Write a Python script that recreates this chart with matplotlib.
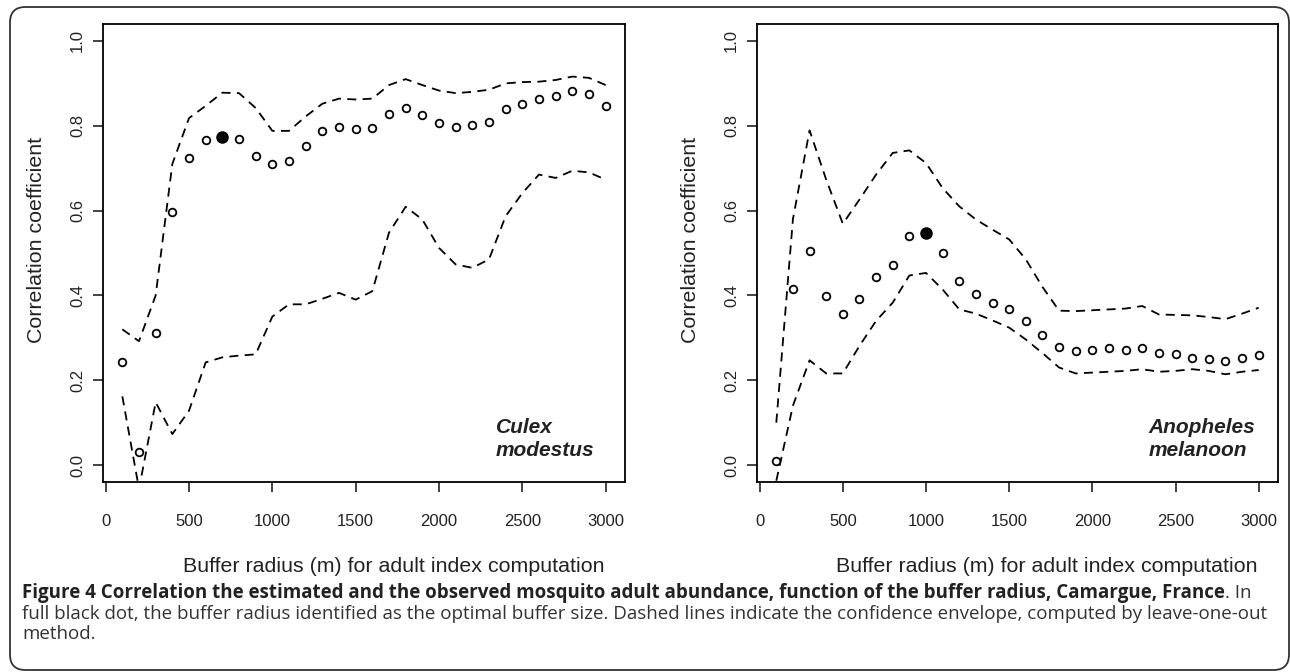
import numpy as np
import matplotlib
matplotlib.use('Agg')
import matplotlib.pyplot as plt
from matplotlib.patches import FancyBboxPatch

# buffer radius (m)
radius = [100, 200, 300, 400, 500, 600, 700, 800, 900, 1000,
          1100, 1200, 1300, 1400, 1500, 1600, 1700, 1800, 1900, 2000,
          2100, 2200, 2300, 2400, 2500, 2600, 2700, 2800, 2900, 3000]

# Culex modestus
culex_r = [0.243, 0.031, 0.312, 0.596, 0.724, 0.766, 0.774, 0.769, 0.729, 0.709,
           0.718, 0.753, 0.787, 0.797, 0.792, 0.795, 0.828, 0.842, 0.826, 0.807,
           0.797, 0.802, 0.809, 0.839, 0.852, 0.863, 0.871, 0.882, 0.876, 0.847]
culex_up = [0.320, 0.292, 0.400, 0.710, 0.818, 0.847, 0.878, 0.877, 0.842, 0.788,
            0.788, 0.822, 0.852, 0.864, 0.862, 0.864, 0.896, 0.910, 0.896, 0.883,
            0.877, 0.880, 0.885, 0.900, 0.903, 0.904, 0.908, 0.916, 0.913, 0.896]
culex_lo = [0.162, -0.056, 0.148, 0.073, 0.128, 0.242, 0.254, 0.258, 0.261, 0.350,
            0.379, 0.379, 0.392, 0.406, 0.390, 0.410, 0.548, 0.609, 0.579, 0.512,
            0.473, 0.465, 0.485, 0.587, 0.641, 0.685, 0.677, 0.694, 0.690, 0.673]
culex_best = 700

# Anopheles melanoon
anoph_r = [0.010, 0.414, 0.504, 0.398, 0.355, 0.391, 0.444, 0.472, 0.540, 0.548,
           0.499, 0.435, 0.404, 0.383, 0.369, 0.340, 0.307, 0.278, 0.268, 0.271,
           0.277, 0.271, 0.275, 0.264, 0.261, 0.253, 0.251, 0.245, 0.252, 0.259]
anoph_up = [0.100, 0.580, 0.789, 0.673, 0.569, 0.626, 0.685, 0.736, 0.742, 0.712,
            0.653, 0.610, 0.579, 0.555, 0.532, 0.485, 0.420, 0.364, 0.363, 0.365,
            0.367, 0.369, 0.375, 0.355, 0.354, 0.353, 0.349, 0.344, 0.357, 0.371]
anoph_lo = [-0.037, 0.140, 0.247, 0.216, 0.216, 0.281, 0.340, 0.383, 0.447, 0.453,
            0.414, 0.367, 0.357, 0.341, 0.324, 0.296, 0.264, 0.230, 0.216, 0.218,
            0.220, 0.222, 0.226, 0.220, 0.222, 0.226, 0.222, 0.214, 0.220, 0.224]
anoph_best = 1000

xticks = [0, 500, 1000, 1500, 2000, 2500, 3000]
yticks = [0.0, 0.2, 0.4, 0.6, 0.8, 1.0]

W, H = 1290, 672
fig = plt.figure(figsize=(W / 100, H / 100), dpi=100)
plt.rcParams['font.family'] = ['Liberation Sans', 'DejaVu Sans']


def panel(rect, r, up, lo, best, name):
    ax = fig.add_axes(rect)
    x = np.array(radius)
    r = np.array(r)
    ax.plot(x, up, color='black', lw=1.3, ls=(0, (5, 3.5)))
    ax.plot(x, lo, color='black', lw=1.3, ls=(0, (5, 3.5)))
    sel = x == best
    ax.plot(x[~sel], r[~sel], 'o', ms=5.5, mfc='white', mec='black', mew=1.3)
    ax.plot(x[sel], r[sel], 'o', ms=8, mfc='black', mec='black')
    ax.set_xlim(-16, 3116)
    ax.set_ylim(-0.04, 1.04)
    ax.set_xticks(xticks)
    ax.set_xticklabels([str(v) for v in xticks])
    ax.set_yticks(yticks)
    ax.set_yticklabels(['%.1f' % v for v in yticks], rotation=90, va='center')
    ax.tick_params(direction='out', length=7, width=1.2, labelsize=12,
                   colors='#222222')
    ax.tick_params(axis='x', pad=16)
    ax.tick_params(axis='y', pad=6)
    for s in ax.spines.values():
        s.set_linewidth(1.3)
    ax.set_xlabel('Buffer radius (m) for adult index computation',
                  fontsize=15.4, color='#222222')
    ax.set_ylabel('Correlation coefficient', fontsize=15.4, color='#222222',
                  labelpad=17)
    ax.xaxis.set_label_coords(0.557, -0.164)
    ax.yaxis.label.set_y(0.528)
    ax.text(2340, 0.061, name, fontsize=15, fontweight='bold', style='italic',
            color='#222222', ha='left', va='center', linespacing=1.25)
    return ax


panel([103 / W, 1 - 482 / H, 522 / W, 458 / H], culex_r, culex_up, culex_lo,
      culex_best, 'Culex\nmodestus')
panel([757 / W, 1 - 482 / H, 521 / W, 458 / H], anoph_r, anoph_up, anoph_lo,
      anoph_best, 'Anopheles\nmelanoon')

# frame round the figure
frame = FancyBboxPatch((10 / W, 2 / H), 1279 / W, 663 / H,
                       boxstyle='round,pad=0,rounding_size=0.012',
                       transform=fig.transFigure, fill=False,
                       ec='#333333', lw=1.3, mutation_aspect=W / H)
fig.patches.append(frame)

# caption
cap_font = ['Open Sans', 'DejaVu Sans']
cap_size = 13.5
bold_part = ('Figure 4 Correlation the estimated and the observed mosquito adult '
             'abundance, function of the buffer radius, Camargue, France')
rest1 = '. In'
line2 = ('full black dot, the buffer radius identified as the optimal buffer size. '
         'Dashed lines indicate the confidence envelope, computed by leave-one-out')
line3 = 'method.'

renderer = fig.canvas.get_renderer()
t = fig.text(22 / W, 1 - 593 / H, bold_part, fontsize=cap_size, fontweight='bold',
             family=cap_font, color='#222222', va='center', ha='left')
bb = t.get_window_extent(renderer)
fig.text(bb.x1 / W, 1 - 593 / H, rest1, fontsize=cap_size, family=cap_font,
         color='#333333', va='center', ha='left')
fig.text(22 / W, 1 - 614 / H, line2, fontsize=cap_size, family=cap_font,
         color='#333333', va='center', ha='left')
fig.text(22 / W, 1 - 634 / H, line3, fontsize=cap_size, family=cap_font,
         color='#333333', va='center', ha='left')

fig.savefig('out.png', dpi=100)
